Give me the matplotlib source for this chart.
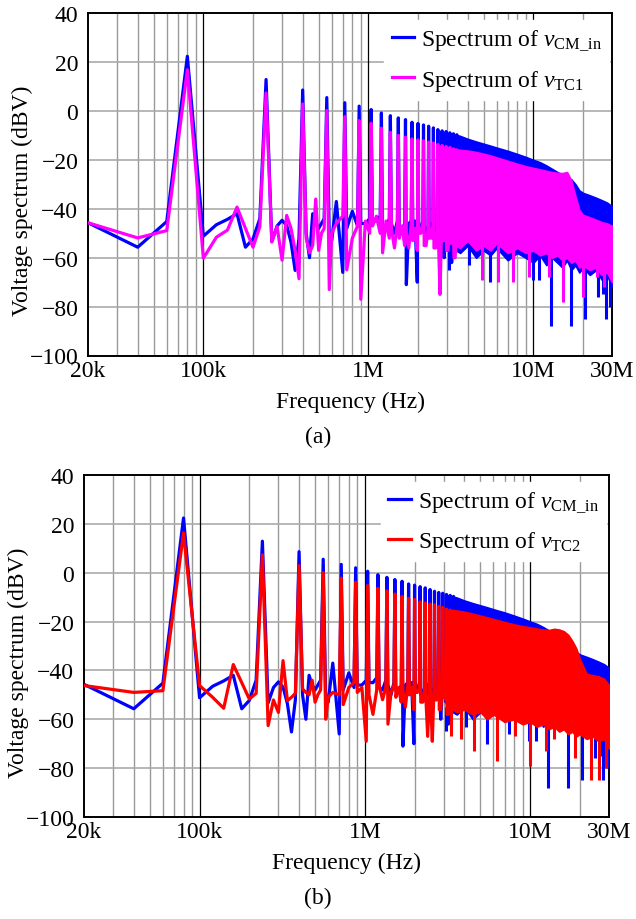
import numpy as np
import matplotlib.pyplot as plt
from matplotlib.ticker import LogLocator, NullFormatter, FixedLocator

plt.rcParams['font.family'] = 'Liberation Serif'
plt.rcParams['mathtext.fontset'] = 'custom'
plt.rcParams['mathtext.rm'] = 'Liberation Serif'
plt.rcParams['mathtext.it'] = 'Liberation Serif:italic'
plt.rcParams['font.size'] = 17

# 20 kHz FFT bins up to 600 kHz
f_bins = np.arange(20, 601, 20) * 1e3
blue_bins = [-45.7, -55.7, -45.2, 22.4, -51.2, -46.5, -44.3, -42.0, -55.7, -52.3,
             -44.0, 12.9, -53.3, -47.0, -44.7, -46.8, -53.6, -65.2, -52.0, 8.6,
             -50, -60, -42, -46, -48, -46, -44, 5.5, -52, -53]
pink_bins = [-45.7, -51.9, -48.9, 16.9, -60.2, -51.6, -48.7, -39.3, -48.0, -55.7,
             -47.3, 7.4, -53.6, -47.3, -61.0, -42.7, -48.0, -57.0, -68.6, 2.9,
             -52, -58, -55, -36, -57, -50, -48, 0.2, -73, -50]
red_bins = [-46.2, -49.0, -48.3, 16.3, -46.2, -51.0, -55.5, -37.6, -45.0, -51.7,
            -49.4, 7.3, -62.6, -52.1, -57.2, -36.0, -52.4, -51.0, -49.4, 2.9,
            -47.6, -49, -50, -44, -53, -50, -48, 0.0, -60, -51]

# odd harmonics of 80 kHz from 720 kHz to 3.44 MHz; each row is
# (floor 80 kHz before, bin 20 kHz before, harmonic, bin 20 kHz after)
harm = np.arange(720, 3441, 160)
blue_harm = [(-37, -66, 3.4, -48), (-41, -47, 2.0, -46), (-46, -44, 0.6, -45),
             (-45, -43, -0.8, -47), (-48, -44, -1.9, -46), (-50, -45, -2.8, -48),
             (-49, -46, -3.5, -71), (-46, -45, -4.6, -48), (-45, -70, -5.1, -47),
             (-48, -45, -5.7, -50), (-50, -47, -6.2, -49), (-46, -52, -6.9, -48),
             (-55, -47, -7.6, -50), (-52, -49, -8.1, -47), (-60, -48, -8.4, -51),
             (-50, -53, -8.9, -48), (-62, -49, -9.3, -52), (-54, -50, -9.7, -49)]
pink_harm = [(-46, -43, -2.3, -65), (-52, -47, -3.9, -77), (-45, -50, -5.0, -47),
             (-43, -50, -7.0, -58), (-45, -52, -8.7, -48), (-56, -46, -10.0, -52),
             (-47, -55, -10.7, -50), (-56, -46, -11.4, -53), (-48, -57, -11.8, -50),
             (-50, -46, -12.2, -55), (-55, -48, -12.7, -52), (-52, -47, -13.1, -56),
             (-56, -49, -13.7, -52), (-75, -48, -14.1, -53), (-53, -50, -14.5, -57),
             (-57, -49, -14.9, -54), (-54, -51, -15.5, -60), (-60, -50, -15.9, -55)]
red_harm = [(-49, -50, -2.2, -54), (-47, -45, -3.9, -49), (-47, -69, -5.3, -50),
            (-58, -48, -6.4, -46), (-52, -47, -7.4, -62), (-49, -46, -8.7, -51),
            (-47, -53, -9.7, -48), (-55, -46, -10.5, -50), (-47, -56, -11.0, -49),
            (-49, -47, -11.9, -53), (-53, -48, -12.4, -51), (-67, -49, -12.8, -52),
            (-69, -48, -13.2, -52), (-52, -50, -13.8, -56), (-56, -49, -14.2, -51),
            (-51, -52, -14.9, -58), (-58, -50, -15.3, -53), (-53, -51, -15.7, -55)]

# dense part (MHz): upper and lower edge of the harmonic band
f_band = np.array([3.2, 3.6, 4.0, 4.5, 5.0, 5.5, 6.0, 7.0, 8.0, 9.0, 10, 11, 12,
                   13, 14, 15, 16, 17, 18, 19, 20, 22, 24, 26, 28, 30]) * 1e6
blue_top = [-9.3, -10.2, -11.4, -12.5, -13.4, -14.2, -15.0, -16.3, -17.6, -18.8,
            -20.0, -21.0, -22.3, -23.7, -25.0, -26.0, -27.0, -28.0, -30.0, -32.5,
            -33.5, -34.5, -35.5, -36.5, -37.5, -39.0]
blue_bot = [-56, -58, -55, -60, -57, -59, -56, -61, -58, -60, -62, -59, -63,
            -60, -62, -64, -61, -65, -63, -66, -64, -67, -65, -69, -67, -72]
pink_top = [-15.3, -15.9, -16.2, -16.8, -17.5, -18.2, -19.0, -20.4, -21.6, -22.6,
            -23.3, -23.9, -24.5, -25.0, -25.3, -25.4, -25.0, -28.5, -35.0, -40.5,
            -42.5, -43.5, -44.5, -45.5, -46.0, -47.0]
pink_bot = [-54, -56, -53, -57, -55, -57, -54, -58, -56, -58, -57, -59, -58,
            -60, -59, -61, -60, -62, -61, -64, -63, -65, -64, -67, -66, -70]
red_top = [-15.3, -15.5, -16.0, -16.8, -17.6, -18.3, -19.0, -20.2, -21.2, -21.9,
           -22.4, -22.9, -23.3, -23.5, -23.0, -23.3, -24.0, -25.5, -28.0, -31.0,
           -35.5, -41.5, -42.0, -42.5, -43.5, -46.0]
red_bot = [-55, -57, -56, -58, -57, -60, -58, -61, -60, -62, -61, -63, -62,
           -64, -63, -65, -64, -66, -65, -67, -66, -68, -67, -69, -68, -72]

# deep single-bin dips inside the band (MHz, dBV)
blue_dip_f = np.array([3.1, 4.1, 5.5, 7.5, 9.9, 10.8, 12.8, 16.9, 20.5, 24.8, 26.3, 27.5, 29.3]) * 1e6
blue_dip_v = [-65, -63, -70, -66, -69, -69, -88, -88, -85, -76, -75, -85, -80]
pink_dip_f = np.array([4.9, 6.1, 7.5, 9.4, 12.4, 15.2, 19.9, 24.2, 27.0]) * 1e6
pink_dip_v = [-69, -70, -70, -68, -68, -78, -76, -68, -72]
red_dip_f = np.array([3.3, 3.8, 4.6, 6.3, 8.1, 10.0, 12.5, 14.0, 18.6, 23.3, 26.2, 28.9]) * 1e6
red_dip_v = [-67, -68, -73, -77, -67, -79, -73, -68, -76, -85, -85, -80]

BLUE = '#0000ff'
PINK = '#ff00ff'
RED = '#ff0000'

f_harm = np.ravel([[h - 80, h - 20, h, h + 20] for h in harm]) * 1e3
f_lo = np.concatenate([f_bins, f_harm])


def spectrum(ax, bins, rows, top, bot, dip_f, dip_v, color, label):
    lo = np.concatenate([bins, np.ravel(rows)])
    ln, = ax.plot(f_lo, lo, color=color, lw=2.3, label=label, zorder=3)
    ax.fill_between(f_band, bot, top, color=color, lw=1.3, zorder=3)
    ax.vlines(dip_f, dip_v, -55, color=color, lw=2.2, zorder=3)
    return ln


def style(ax):
    ax.set_xscale('log')
    ax.set_xlim(2e4, 3e7)
    ax.set_ylim(-100, 40)
    ax.set_yticks(range(-100, 41, 20))
    ax.xaxis.set_major_locator(FixedLocator([2e4, 1e5, 1e6, 1e7, 3e7]))
    ax.set_xticklabels(['20k', '100k', '1M', '10M', '30M'])
    ax.xaxis.set_minor_locator(LogLocator(subs=np.arange(2, 10), numticks=20))
    ax.xaxis.set_minor_formatter(NullFormatter())
    ax.tick_params(which='both', length=0)
    ax.tick_params(axis='x', pad=3)
    ax.tick_params(axis='y', pad=7)
    ax.grid(which='minor', axis='x', color='#999999', lw=1.0)
    ax.grid(which='major', axis='y', color='#aaaaaa', lw=1.2)
    for d in [1e5, 1e6, 1e7]:
        ax.axvline(d, color='black', lw=0.9, zorder=1)
    ax.set_axisbelow(True)
    for s in ax.spines.values():
        s.set_linewidth(1.4)
    ax.set_xlabel('Frequency (Hz)', labelpad=7)
    ax.set_ylabel('Voltage spectrum (dBV)')
    ax.yaxis.set_label_coords(-0.105, 0.455)


fig = plt.figure(figsize=(6.36, 9.2), dpi=100)
ax1 = fig.add_axes([0.1384, 0.6125, 0.8239, 0.372])
ax2 = fig.add_axes([0.1321, 0.1109, 0.8254, 0.3717])

for ax, bins, rows, top, bot, df, dv, col, lab in [
        (ax1, pink_bins, pink_harm, pink_top, pink_bot, pink_dip_f, pink_dip_v, PINK,
         r'Spectrum of $v_{\mathrm{TC1}}$'),
        (ax2, red_bins, red_harm, red_top, red_bot, red_dip_f, red_dip_v, RED,
         r'Spectrum of $v_{\mathrm{TC2}}$')]:
    style(ax)
    h1 = spectrum(ax, blue_bins, blue_harm, blue_top, blue_bot, blue_dip_f, blue_dip_v,
                  BLUE, r'Spectrum of $v_{\mathrm{CM\_in}}$')
    h2 = spectrum(ax, bins, rows, top, bot, df, dv, col, lab)
    leg = ax.legend(handles=[h1, h2], loc='upper right', bbox_to_anchor=(1.0, 0.988),
                    borderaxespad=0.12, frameon=True, fancybox=False, framealpha=1,
                    edgecolor='white', handlelength=0.95, handletextpad=0.3,
                    labelspacing=0.65, borderpad=0.3)
    leg.set_zorder(10)

fig.text(0.5, 1 - 437 / 920, '(a)', ha='center', va='center')
fig.text(0.5, 1 - 898 / 920, '(b)', ha='center', va='center')

fig.savefig('out.png', dpi=100)
